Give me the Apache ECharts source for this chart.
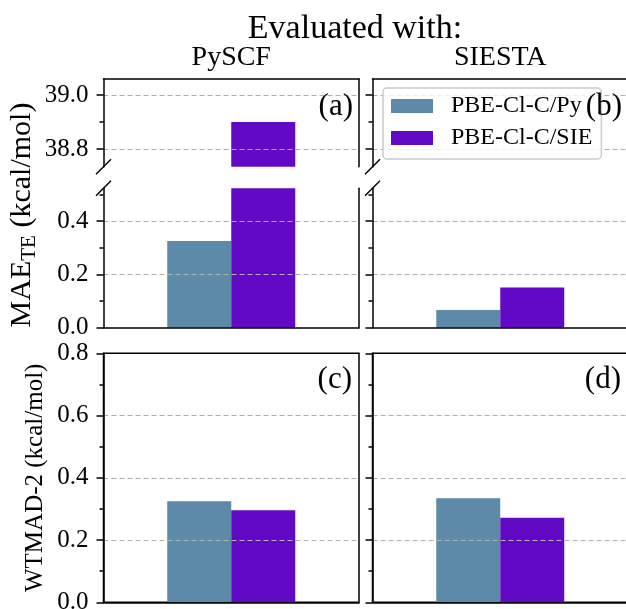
<!DOCTYPE html>
<html>
<head>
<meta charset="utf-8">
<script src="https://cdn.jsdelivr.net/npm/echarts@6/dist/echarts.min.js"></script>
<style>
  html, body { margin: 0; padding: 0; background: #fff; }
  #chart { width: 626px; height: 609px; }
</style>
</head>
<body>
<div id="chart"></div>
<script>
// 数据
const methods = ['PBE-Cl-C/Py', 'PBE-Cl-C/SIE'];
const codes = ['PySCF', 'SIESTA'];
const panelTags = ['(a)', '(b)', '(c)', '(d)'];
// MAE_TE (kcal/mol)
const maePySCF = [0.325, 38.90];
const maeSIESTA = [0.066, 0.151];
// WTMAD-2 (kcal/mol)
const wtmadPySCF = [0.325, 0.296];
const wtmadSIESTA = [0.334, 0.272];
// 刻度
const upperTicks = [38.8, 39.0];
const upperMinor = [38.9];
const lowerTicks = [0.0, 0.2, 0.4];
const lowerMinor = [0.1, 0.3, 0.5];
const wtmadTicks = [0.0, 0.2, 0.4, 0.6, 0.8];
const wtmadMinor = [0.1, 0.3, 0.5, 0.7];

const colors = ['#5d8aa8', '#6109c5'];
const FONT = '"Liberation Serif", serif';
const font = (size) => size + 'px "Liberation Serif", serif';
const L1 = 103.5, L2 = 372.5, W = 255.5;
const UP_TOP = 79, UP_BOT = 166.7, LO_TOP = 188.3, LO_BOT = 327.7;
const BOT_TOP = 353.3, BOT_BOT = 602.3;

// 每个面板: 网格位置 + 轴范围
const panels = [
  { left: L1, top: UP_TOP, h: UP_BOT - UP_TOP, min: 38.734, max: 39.06, ticks: upperTicks, minor: upperMinor, data: maePySCF, labels: true, spine: 'top', right: true, minLine: true, maxLine: true },
  { left: L1, top: LO_TOP, h: LO_BOT - LO_TOP, min: 0, max: 0.5225, ticks: lowerTicks, minor: lowerMinor, data: maePySCF, labels: true, spine: 'bottom', right: true, minLine: false, maxLine: true },
  { left: L2, top: UP_TOP, h: UP_BOT - UP_TOP, min: 38.734, max: 39.06, ticks: upperTicks, minor: upperMinor, data: maeSIESTA, labels: false, spine: 'top', right: false, minLine: true, maxLine: true },
  { left: L2, top: LO_TOP, h: LO_BOT - LO_TOP, min: 0, max: 0.5225, ticks: lowerTicks, minor: lowerMinor, data: maeSIESTA, labels: false, spine: 'bottom', right: false, minLine: false, maxLine: true },
  { left: L1, top: BOT_TOP, h: BOT_BOT - BOT_TOP, min: 0, max: 0.8, ticks: wtmadTicks, minor: wtmadMinor, data: wtmadPySCF, labels: true, spine: 'box', right: false, minLine: false, maxLine: false },
  { left: L2, top: BOT_TOP, h: BOT_BOT - BOT_TOP, min: 0, max: 0.8, ticks: wtmadTicks, minor: wtmadMinor, data: wtmadSIESTA, labels: false, spine: 'box', right: false, minLine: false, maxLine: false }
];

const black = { color: '#000', width: 1.5 };
const grid = [], xAxis = [], yAxis = [], series = [];

panels.forEach((p, i) => {
  grid.push({
    left: p.left, top: p.top, width: W, height: p.h,
    outerBoundsMode: 'none', containLabel: false,
    show: p.spine === 'box', borderColor: '#000', borderWidth: 1.5
  });
  xAxis.push({
    gridIndex: i, type: 'category', data: [''],
    position: p.spine === 'top' ? 'top' : 'bottom',
    axisLine: { show: true, lineStyle: black },
    axisTick: { show: false }, axisLabel: { show: false }, splitLine: { show: false },
    z: 3
  });
  const mainIdx = yAxis.length;
  // 主刻度 + 标签 + 网格线
  yAxis.push({
    gridIndex: i, type: 'value', position: 'left', min: p.min, max: p.max,
    axisLine: { show: true, lineStyle: black },
    axisTick: { show: true, customValues: p.ticks, length: 7, lineStyle: black },
    axisLabel: {
      show: p.labels, customValues: p.ticks, margin: 15,
      fontFamily: FONT, fontSize: 25, color: '#000',
      formatter: (v) => Number(v).toFixed(1)
    },
    splitLine: {
      show: true, showMinLine: p.minLine, showMaxLine: p.maxLine,
      lineStyle: { color: '#b0b0b0', width: 1, type: [5, 3] }
    },
    z: 3
  });
  // 次刻度
  yAxis.push({
    gridIndex: i, type: 'value', position: 'left', min: p.min, max: p.max,
    axisLine: { show: false },
    axisTick: { show: true, customValues: p.minor, length: 4, lineStyle: black },
    axisLabel: { show: false }, splitLine: { show: false },
    z: 3
  });
  if (p.right) {
    yAxis.push({
      gridIndex: i, type: 'value', position: 'right', min: p.min, max: p.max,
      axisLine: { show: true, lineStyle: black },
      axisTick: { show: false }, axisLabel: { show: false }, splitLine: { show: false },
      z: 3
    });
  }
  methods.forEach((m, k) => {
    series.push({
      type: 'bar', name: m, xAxisIndex: i, yAxisIndex: mainIdx,
      data: [p.data[k]], barWidth: 64, barGap: '0%', clip: true,
      itemStyle: { color: colors[k] },
      emphasis: { disabled: true }
    });
  });
});

// 文字与断轴标记
const graphic = [];
const txt = (x, y, text, size, align, extra) => Object.assign({
  type: 'text', x: x, y: y, z: 100,
  style: { text: text, font: font(size), fill: '#000', align: align || 'center', verticalAlign: 'middle' }
}, extra || {});

graphic.push(txt(355, 29, 'Evaluated with:', 34));
graphic.push(txt(L1 + W / 2, 58, codes[0], 28));
graphic.push(txt(L2 + W / 2, 58, codes[1], 28));
graphic.push(txt(353, 107, panelTags[0], 31, 'right'));
graphic.push(txt(622, 107, panelTags[1], 31, 'right'));
graphic.push(txt(352, 380, panelTags[2], 31, 'right'));
graphic.push(txt(621, 380, panelTags[3], 31, 'right'));

graphic.push({
  type: 'text', x: 22, y: 215, rotation: Math.PI / 2, z: 100,
  style: {
    text: '{a|MAE}{b|TE}{a| (kcal/mol)}',
    font: font(30),
    align: 'center', verticalAlign: 'middle', fill: '#000',
    rich: {
      a: { font: font(30), fontFamily: FONT, fontSize: 30, lineHeight: 30, verticalAlign: 'top' },
      b: { font: font(21), fontFamily: FONT, fontSize: 21, lineHeight: 21, verticalAlign: 'top', padding: [12, 0, 0, 0] }
    }
  }
});
graphic.push(txt(35, 477.8, 'WTMAD-2 (kcal/mol)', 25, 'center', { rotation: Math.PI / 2 }));

[L1, L2].forEach((L) => {
  [UP_BOT, LO_TOP].forEach((y) => {
    graphic.push({
      type: 'line', z: 100,
      shape: { x1: L - 7.5, y1: y + 7.5, x2: L + 7.5, y2: y - 7.5 },
      style: { stroke: '#000', lineWidth: 1.5 }
    });
  });
});

const chart = echarts.init(document.getElementById('chart'));
chart.setOption({
  animation: false,
  backgroundColor: '#fff',
  grid: grid,
  xAxis: xAxis,
  yAxis: yAxis,
  series: series,
  legend: {
    data: methods, orient: 'vertical', left: 383, top: 88,
    padding: [6, 9, 9, 8], itemWidth: 42, itemHeight: 14, itemGap: 8,
    icon: 'rect', selectedMode: false,
    borderColor: '#cccccc', borderWidth: 1.5, borderRadius: 4,
    backgroundColor: 'rgba(255,255,255,0.8)',
    textStyle: { fontFamily: FONT, fontSize: 24, color: '#000', lineHeight: 24, padding: [0, 0, 0, 13] },
    z: 5
  },
  graphic: graphic
});
</script>
</body>
</html>
